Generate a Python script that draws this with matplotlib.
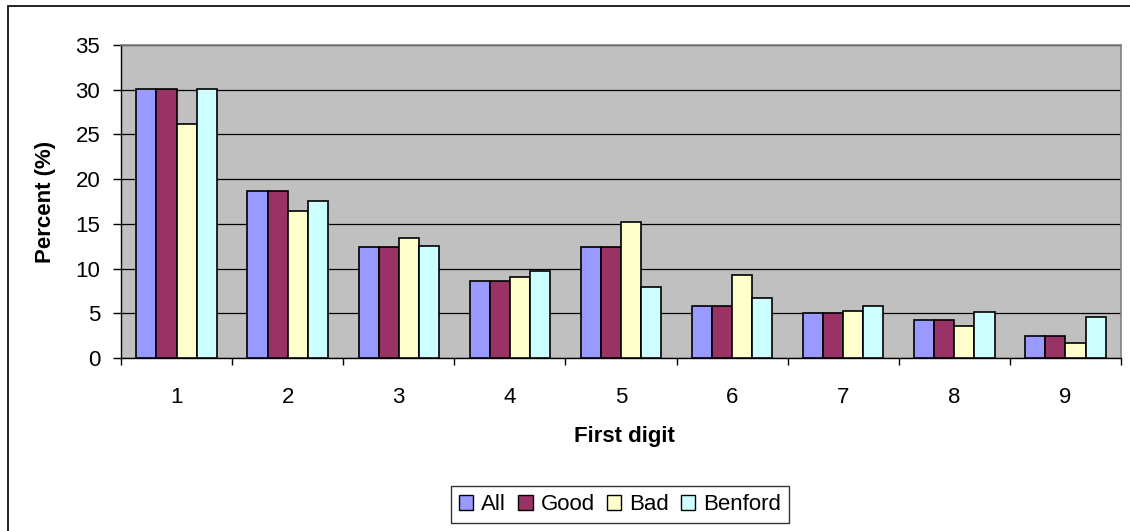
import numpy as np
import matplotlib
matplotlib.use("Agg")
import matplotlib.pyplot as plt
from matplotlib.patches import Rectangle

plt.rcParams['font.family'] = ['Liberation Sans', 'DejaVu Sans']

# data
digits = [1, 2, 3, 4, 5, 6, 7, 8, 9]
all_pct = [30.1, 18.7, 12.45, 8.6, 12.45, 5.87, 5.05, 4.23, 2.47]
good_pct = [30.1, 18.7, 12.45, 8.6, 12.45, 5.87, 5.05, 4.23, 2.47]
bad_pct = [26.2, 16.4, 13.45, 9.05, 15.2, 9.27, 5.24, 3.55, 1.65]
benford_pct = [30.1, 17.6, 12.5, 9.7, 7.9, 6.7, 5.8, 5.1, 4.6]

series = [("All", all_pct, "#9999FF"),
          ("Good", good_pct, "#993366"),
          ("Bad", bad_pct, "#FFFFCC"),
          ("Benford", benford_pct, "#CCFFFF")]

FS = 16
W, H = 1130, 531
fig = plt.figure(figsize=(W / 100, H / 100), dpi=100)

# plot area in pixels: left 121, right 1121, top 45, bottom 358
ax = fig.add_axes([121 / W, 1 - 358 / H, 1000 / W, 313 / H])
ax.set_facecolor("#C0C0C0")

x = np.arange(len(digits)) + 1
bw = 0.181
for i, (name, vals, col) in enumerate(series):
    ax.bar(x + (i - 1.5) * bw, vals, width=bw, color=col, edgecolor="black",
           linewidth=1.2, label=name, zorder=3)

ax.set_xlim(0.5, 9.5)
ax.set_ylim(0, 35)
ax.set_yticks(np.arange(0, 36, 5))
ax.yaxis.grid(True, color="black", linewidth=0.9, zorder=1)
ax.set_axisbelow(True)

ax.set_xticks(x)
ax.set_xticklabels([str(d) for d in digits])
ax.set_xticks(np.arange(0.5, 9.6, 1), minor=True)
ax.tick_params(axis="x", which="major", length=0, pad=21, labelsize=FS)
ax.tick_params(axis="x", which="minor", length=5, width=1, color="black", direction="out")
ax.tick_params(axis="y", length=6, width=1, color="black", direction="out",
               labelsize=FS, pad=9)

for s in ["left", "bottom"]:
    ax.spines[s].set_color("black")
    ax.spines[s].set_linewidth(1)
for s in ["top", "right"]:
    ax.spines[s].set_color("#808080")
    ax.spines[s].set_linewidth(1.2)

fig.text(624 / W, 1 - 442 / H, "First digit", ha="center", va="baseline",
         fontsize=FS, fontweight="bold")
fig.text(46 / W, 1 - 202 / H, "Percent (%)", ha="center", va="center",
         rotation=90, fontsize=FS, fontweight="bold")

leg = fig.legend(loc="center", bbox_to_anchor=(620 / W, 1 - 504.5 / H), ncol=4,
                 fontsize=FS, frameon=True, fancybox=False, handlelength=0.65,
                 handleheight=0.65, handletextpad=0.35, columnspacing=0.55,
                 borderpad=0.35)
leg.get_frame().set_edgecolor("black")
leg.get_frame().set_linewidth(1)
for h in leg.legend_handles:
    h.set_linewidth(1)

# outer chart border (cropped at right and bottom)
fig.patches.append(Rectangle((8 / W, -0.05), 1.2, 1 - 6 / H + 0.05,
                             transform=fig.transFigure, fill=False,
                             edgecolor="black", linewidth=1.2))

fig.savefig("out.png", dpi=100)
